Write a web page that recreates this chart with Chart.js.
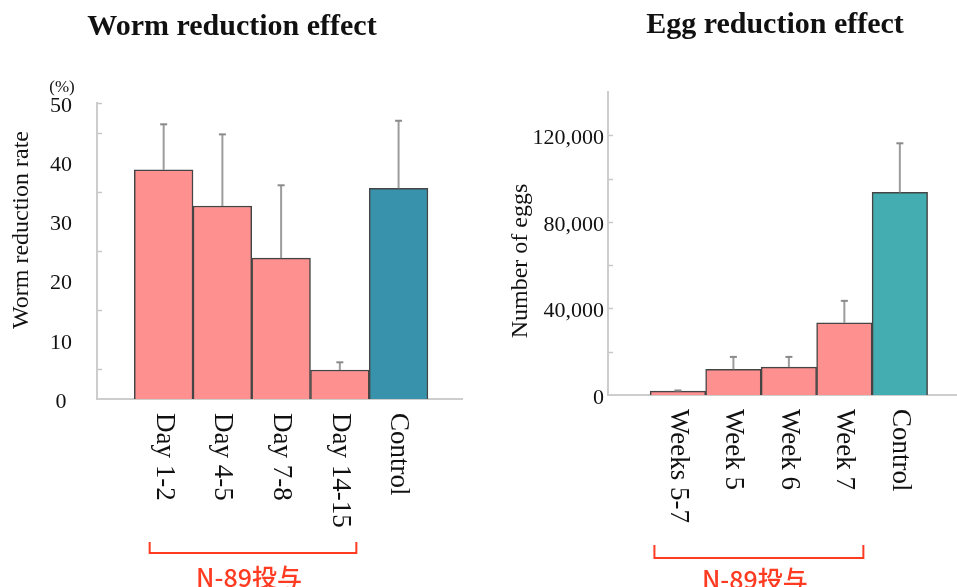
<!DOCTYPE html>
<html>
<head>
<meta charset="utf-8">
<script src="https://cdn.jsdelivr.net/npm/chart.js@4/dist/chart.umd.min.js"></script>
<style>
  html, body { margin: 0; padding: 0; background: #fff; }
  #wrap { position: relative; width: 957px; height: 587px; overflow: hidden; }
  canvas { position: absolute; top: 0; }
  #c1 { left: 0; }
  #c2 { left: 480px; }
</style>
</head>
<body>
<div id="wrap">
  <canvas id="c1" width="480" height="587"></canvas>
  <canvas id="c2" width="477" height="587"></canvas>
</div>
<script>
// Worm reduction (%), mean and SD per dosing period
const wormCategories = ['Day 1-2', 'Day 4-5', 'Day 7-8', 'Day 14-15', 'Control'];
const wormRates = [38.7, 32.6, 23.8, 4.9, 35.6];
const wormSD = [7.7, 12.1, 12.3, 1.3, 11.4];
const wormTickLabels = [0, 10, 20, 30, 40, 50];
const wormTickMarks = [5, 15, 25, 35, 45, 50];

// Egg counts, mean and SD per dosing period
const eggCategories = ['Weeks 5-7', 'Week 5', 'Week 6', 'Week 7', 'Control'];
const eggCounts = [1800, 11900, 12900, 33300, 93600];
const eggSD = [300, 5700, 4700, 10200, 22700];
const eggTickLabels = [0, 40000, 80000, 120000];
const eggTickMarks = [20000, 40000, 60000, 80000, 100000, 120000];

const groupLabel = 'N-89投与';
const PINK = '#ff9090';

const SERIF = '"Liberation Serif", "Times New Roman", serif';

function annotations(cfg) {
  return {
    id: 'annotations',
    afterDatasetsDraw(chart) {
      const { ctx, chartArea } = chart;
      const x = chart.scales.x, y = chart.scales.y;
      const bars = chart.getDatasetMeta(0).data;
      ctx.save();

      // short inward tick marks on the value axis
      ctx.strokeStyle = '#c8c8c8';
      ctx.lineWidth = 1.5;
      cfg.tickMarks.forEach(v => {
        const py = Math.round(y.getPixelForValue(v)) + 0.5;
        ctx.beginPath();
        ctx.moveTo(chartArea.left, py);
        ctx.lineTo(chartArea.left + 5, py);
        ctx.stroke();
      });

      // SD whiskers with small caps
      bars.forEach((bar, i) => {
        const top = y.getPixelForValue(cfg.values[i] + cfg.sd[i]);
        ctx.strokeStyle = '#9c9c9c';
        ctx.lineWidth = 2;
        ctx.beginPath();
        ctx.moveTo(bar.x, bar.y);
        ctx.lineTo(bar.x, top);
        ctx.stroke();
        ctx.strokeStyle = '#8a8a8a';
        ctx.beginPath();
        ctx.moveTo(bar.x - 3.5, top);
        ctx.lineTo(bar.x + 3.5, top);
        ctx.stroke();
      });

      // category labels, rotated to read downward
      ctx.fillStyle = '#111';
      ctx.font = '27px ' + SERIF;
      ctx.textAlign = 'left';
      ctx.textBaseline = 'middle';
      cfg.categories.forEach((c, i) => {
        ctx.save();
        ctx.translate(x.getPixelForValue(i), chartArea.bottom + 14);
        ctx.rotate(Math.PI / 2);
        ctx.fillText(c, 0, 0);
        ctx.restore();
      });

      // chart title
      ctx.textAlign = 'center';
      ctx.font = 'bold 30px ' + SERIF;
      ctx.fillText(cfg.title, cfg.titleX, cfg.titleY);

      // value axis title
      ctx.font = '24px ' + SERIF;
      ctx.save();
      ctx.translate(cfg.yTitleX, cfg.yTitleY);
      ctx.rotate(-Math.PI / 2);
      ctx.fillText(cfg.yTitle, 0, 0);
      ctx.restore();

      if (cfg.unit) {
        ctx.font = '17px ' + SERIF;
        ctx.fillText(cfg.unit, cfg.unitX, cfg.unitY);
      }

      // bracket grouping the treated periods
      const bx1 = x.getPixelForValue(cfg.bracket.from) + cfg.bracket.padL;
      const bx2 = x.getPixelForValue(cfg.bracket.to) + cfg.bracket.padR;
      ctx.strokeStyle = '#ff3b22';
      ctx.lineWidth = 2;
      ctx.beginPath();
      ctx.moveTo(bx1, cfg.bracket.top);
      ctx.lineTo(bx1, cfg.bracket.bottom);
      ctx.lineTo(bx2, cfg.bracket.bottom);
      ctx.lineTo(bx2, cfg.bracket.top);
      ctx.stroke();

      ctx.fillStyle = '#ff3b22';
      ctx.font = '500 25px "Noto Sans CJK JP", "Noto Sans", sans-serif';
      ctx.textAlign = 'center';
      ctx.textBaseline = 'alphabetic';
      ctx.fillText(groupLabel, (bx1 + bx2) / 2 - 4, cfg.bracket.textY);

      ctx.restore();
    }
  };
}

function makeChart(id, o) {
  return new Chart(document.getElementById(id), {
    type: 'bar',
    data: {
      datasets: [{
        data: o.values.map((v, i) => ({ x: i, y: v })),
        backgroundColor: o.colors,
        borderColor: '#454545',
        borderWidth: 1.5,
        categoryPercentage: 1,
        barPercentage: 1
      }]
    },
    options: {
      responsive: false,
      animation: false,
      layout: { padding: o.padding },
      plugins: { legend: { display: false }, tooltip: { enabled: false }, title: { display: false } },
      scales: {
        x: {
          type: 'linear',
          offset: false,
          min: o.xMin,
          max: o.xMax,
          grid: { display: false, drawTicks: false, offset: false },
          ticks: { display: false },
          border: { display: true, color: '#cdcdcd', width: 2 },
          afterFit: s => { s.height = 0; }
        },
        y: {
          min: 0,
          max: o.yMax,
          afterBuildTicks: s => { s.ticks = o.tickLabels.map(v => ({ value: v })); },
          grid: { display: false, drawTicks: false },
          border: { display: true, color: '#cdcdcd', width: 2 },
          ticks: {
            color: '#111',
            font: { family: SERIF, size: 22 },
            padding: o.tickPadding,
            crossAlign: o.crossAlign,
            labelOffset: 3,
            callback: v => v.toLocaleString('en-US')
          },
          afterFit: s => { s.width = o.yWidth; }
        }
      }
    },
    plugins: [annotations(o.notes)]
  });
}

makeChart('c1', {
  values: wormRates,
  colors: [PINK, PINK, PINK, PINK, '#3892ab'],
  padding: { left: 0, right: 18, top: 103, bottom: 188 },
  yWidth: 97,
  yMax: 50,
  xMin: -1.135,
  xMax: 5.08,
  tickLabels: wormTickLabels,
  tickPadding: 25,
  crossAlign: 'center',
  notes: {
    values: wormRates, sd: wormSD, categories: wormCategories, tickMarks: wormTickMarks,
    title: 'Worm reduction effect', titleX: 232, titleY: 27,
    yTitle: 'Worm reduction rate', yTitleX: 22, yTitleY: 230,
    unit: '(%)', unitX: 62, unitY: 88,
    bracket: { from: 0, to: 3, padL: -14, padR: 16.5, top: 542, bottom: 553, textY: 587 }
  }
});

makeChart('c2', {
  values: eggCounts,
  colors: [PINK, PINK, PINK, PINK, '#43adb1'],
  padding: { left: 0, right: 0, top: 92, bottom: 192 },
  yWidth: 128,
  yMax: 140000,
  xMin: -1.26,
  xMax: 5.03,
  tickLabels: eggTickLabels,
  tickPadding: 4,
  crossAlign: 'near',
  notes: {
    values: eggCounts, sd: eggSD, categories: eggCategories, tickMarks: eggTickMarks,
    title: 'Egg reduction effect', titleX: 295, titleY: 25,
    yTitle: 'Number of eggs', yTitleX: 41, yTitleY: 261,
    unit: null,
    bracket: { from: 0, to: 3, padL: -23.5, padR: 19, top: 545, bottom: 558, textY: 589 }
  }
});
</script>
</body>
</html>
